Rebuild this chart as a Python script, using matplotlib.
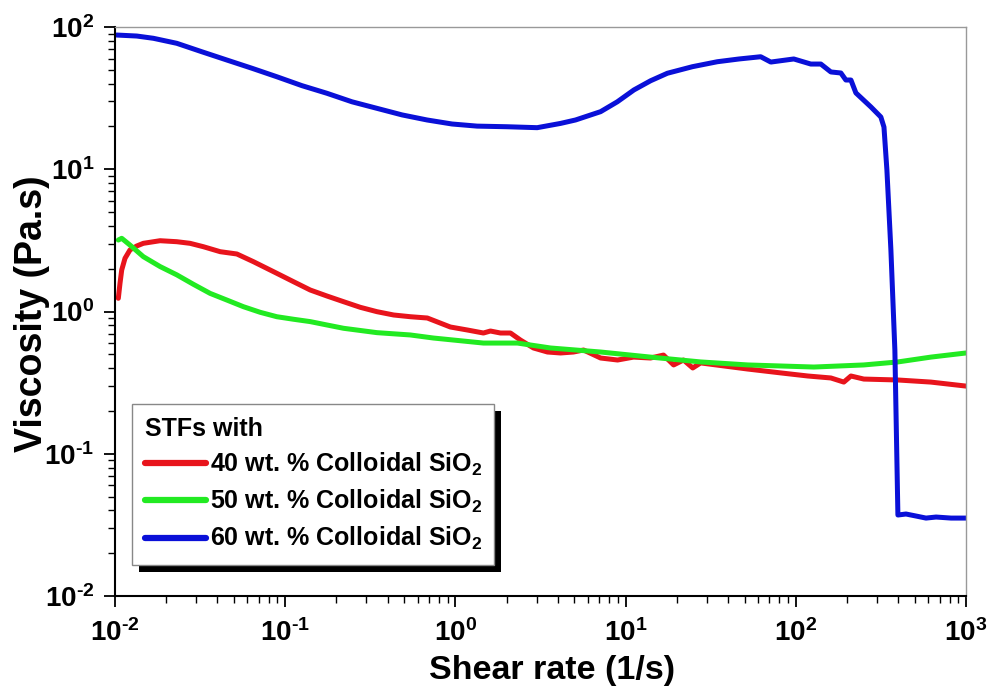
import math
import matplotlib
matplotlib.use("Agg")
import matplotlib.pyplot as plt
from matplotlib.ticker import LogLocator, FuncFormatter, NullFormatter
from matplotlib.patches import Rectangle
from matplotlib.transforms import IdentityTransform

plt.rcParams['font.family'] = ['Liberation Sans', 'DejaVu Sans']
plt.rcParams['font.weight'] = 'bold'
plt.rcParams['mathtext.fontset'] = 'custom'
plt.rcParams['mathtext.rm'] = 'Liberation Sans:bold'
plt.rcParams['mathtext.bf'] = 'Liberation Sans:bold'
plt.rcParams['mathtext.it'] = 'Liberation Sans:bold'
plt.rcParams['mathtext.default'] = 'bf'

# Flow curves: shear rate (1/s) vs viscosity (Pa.s)
rate_40 = [0.01046, 0.01070, 0.01095, 0.01145, 0.01225, 0.01342, 0.01467, 0.0184, 0.02307, 0.0276,
           0.03306, 0.0415, 0.0520, 0.0651, 0.0893, 0.1119, 0.1403, 0.1759, 0.2203, 0.2762,
           0.3462, 0.4337, 0.5435, 0.684, 0.934, 1.177, 1.461, 1.606, 1.84,
           2.106, 2.41, 2.876, 3.475, 4.15, 4.94, 5.66, 7.13, 8.97, 11.14, 14.0, 16.7,
           19.15, 21.9, 24.8, 27.6, 52.2, 81.7, 117.7, 160.7, 191.5, 210.8, 251, 398, 622, 1000]
visc_40 = [1.238, 1.579, 1.957, 2.366, 2.71, 2.887, 3.015, 3.145, 3.095, 3.015,
           2.854, 2.633, 2.537, 2.239, 1.855, 1.62, 1.416, 1.285, 1.172, 1.070,
           0.997, 0.945, 0.919, 0.900, 0.778, 0.741, 0.706, 0.729, 0.706,
           0.706, 0.630, 0.554, 0.519, 0.511, 0.519, 0.536, 0.471, 0.456, 0.478, 0.471, 0.494,
           0.421, 0.456, 0.401, 0.435, 0.394, 0.370, 0.352, 0.341, 0.319, 0.352, 0.335, 0.330, 0.319, 0.299]

rate_50 = [0.01046, 0.01095, 0.01225, 0.01467, 0.0184, 0.02307, 0.02888, 0.0362, 0.0454, 0.0568,
           0.0713, 0.0893, 0.1119, 0.1403, 0.1759, 0.2203, 0.3462, 0.5435, 0.742, 1.461, 2.316,
           3.62, 7.13, 14.0, 27.6, 52.2, 127.6, 251, 398, 622, 1000]
visc_50 = [3.18, 3.27, 2.93, 2.43, 2.07, 1.81, 1.553, 1.341, 1.204, 1.081,
           0.987, 0.919, 0.882, 0.849, 0.804, 0.762, 0.710, 0.684, 0.651, 0.600, 0.600,
           0.554, 0.519, 0.478, 0.442, 0.421, 0.407, 0.421, 0.442, 0.478, 0.511]

rate_60 = [0.01023, 0.01342, 0.0168, 0.02307, 0.03236, 0.0454, 0.0637, 0.0893, 0.1254, 0.1759,
           0.2468, 0.3462, 0.4859, 0.6818, 0.9563, 1.341, 2.014, 3.024, 4.146, 5.08, 7.13, 8.94,
           11.19, 14.03, 17.6, 24.7, 34.6, 46.4, 62.2, 71.3, 97.3, 122.5, 140.3, 160.7, 184,
           196.8, 210.8, 225.5, 276.4, 316, 329.6, 343, 362, 382, 398, 444, 508, 582, 667, 817, 1000]
visc_60 = [87.8, 86.4, 83.3, 76.8, 67.0, 58.6, 51.3, 44.7, 38.7, 34.2,
           29.8, 26.8, 24.1, 22.2, 20.8, 20.1, 19.9, 19.6, 21.0, 22.2, 25.4, 29.8,
           36.1, 41.9, 47.3, 52.6, 57.0, 59.6, 61.8, 56.7, 59.6, 54.9, 54.9, 48.3, 47.5,
           42.4, 42.4, 34.4, 27.4, 23.3, 19.8, 9.88, 2.71, 0.536, 0.0371, 0.0377, 0.0365,
           0.0353, 0.0359, 0.0353, 0.0353]

labels = ['40 wt. % Colloidal SiO$_2$', '50 wt. % Colloidal SiO$_2$', '60 wt. % Colloidal SiO$_2$']
colors = ['#e8141c', '#22ea22', '#0a10d8']

fig = plt.figure(figsize=(9.95, 6.96), dpi=100)
ax = fig.add_axes([115 / 995, 1 - 596 / 696, 851 / 995, 569 / 696])

for r, v, lab, c in zip([rate_40, rate_50, rate_60], [visc_40, visc_50, visc_60], labels, colors):
    ax.plot(r, v, color=c, lw=3.6, label=lab, solid_joinstyle='round', solid_capstyle='round')

ax.set_xscale('log')
ax.set_yscale('log')
ax.set_xlim(1e-2, 1e3)
ax.set_ylim(1e-2, 1e2)


def decade_label(v, pos):
    e = round(math.log10(v))
    exp = (r'\text{-}%d' % -e) if e < 0 else '%d' % e
    return r'$\mathbf{10^{%s}}$' % exp


fmt = FuncFormatter(decade_label)
for axis in (ax.xaxis, ax.yaxis):
    axis.set_major_locator(LogLocator(base=10, numticks=10))
    axis.set_minor_locator(LogLocator(base=10, subs=range(2, 10), numticks=20))
    axis.set_major_formatter(fmt)
    axis.set_minor_formatter(NullFormatter())

ax.tick_params(which='major', direction='out', length=8, width=1.3, labelsize=20)
ax.tick_params(which='minor', direction='out', length=5, width=1.0)
ax.tick_params(axis='x', which='major', pad=9)
ax.tick_params(axis='y', which='major', pad=7)
ax.tick_params(top=False, right=False, which='both')

for s in ('left', 'bottom'):
    ax.spines[s].set_linewidth(1.5)
    ax.spines[s].set_color('black')
for s in ('top', 'right'):
    ax.spines[s].set_linewidth(1.0)
    ax.spines[s].set_color('#999999')

ax.set_xlabel('Shear rate (1/s)', fontsize=24.5, fontweight='bold', va='top')
ax.set_ylabel('Viscosity (Pa.s)', fontsize=27, fontweight='bold')
ax.xaxis.set_label_coords(0.5135, -0.103)
ax.yaxis.set_label_coords(-0.076, 0.497)

leg = ax.legend(loc='lower left', bbox_to_anchor=(0.02, 0.0545), borderaxespad=0,
                title='STFs with', alignment='left', fancybox=False, framealpha=1,
                edgecolor='#888888', fontsize=18, title_fontsize=18,
                handlelength=2.45, handletextpad=0.15, labelspacing=0.4, borderpad=0.5)
leg.get_title().set_fontweight('bold')
leg.get_frame().set_linewidth(1.0)
for line in leg.get_lines():
    line.set_linewidth(4.5)

fig.canvas.draw()
bb = leg.get_window_extent()
shadow = Rectangle((bb.x0 + 7, bb.y0 - 7), bb.width, bb.height, transform=IdentityTransform(),
                   facecolor='black', edgecolor='none', zorder=4.9, clip_on=False)
ax.add_artist(shadow)

fig.savefig('out.png', dpi=100)
